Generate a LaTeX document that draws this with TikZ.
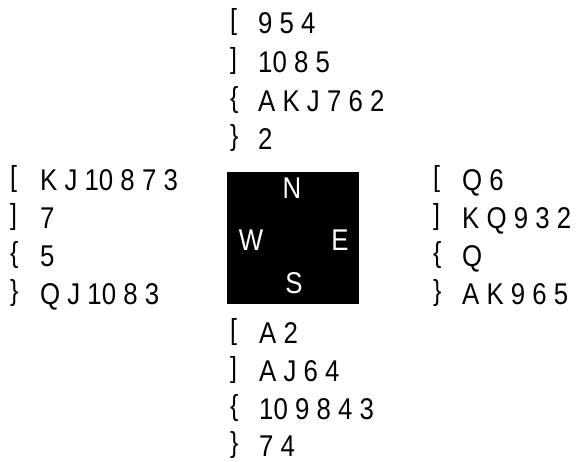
\documentclass[tikz,border=0pt]{standalone}
\usepackage{fontspec}
\setmainfont{Liberation Sans}[FakeStretch=0.86]
\begin{document}
\begin{tikzpicture}[x=1pt,y=-1pt,
  txt/.style={anchor=base west,inner sep=0pt,font=\fontsize{30}{30}\selectfont},
  suit/.style={anchor=base west,inner sep=0pt,yshift=4pt,font=\fontsize{29}{29}\selectfont},
  dir/.style={anchor=center,inner sep=0pt,text=white,font=\fontsize{30}{30}\selectfont}]
\useasboundingbox (0,0) rectangle (584,461);
% North
\node[suit] (ns) at (230,33) {[};
\node[suit] (nh) at (230,72) {]};
\node[suit] (nd) at (230,111) {\{};
\node[suit] (nc) at (230,149) {\}};
\node[txt] (nsc) at (258,33) {9 5 4};
\node[txt] (nhc) at (258,72) {10 8 5};
\node[txt] (ndc) at (258,111) {A K J 7 6 2};
\node[txt] (ncc) at (258,149) {2};
% West
\node[suit] (ws) at (10,190) {[};
\node[suit] (wh) at (10,228) {]};
\node[suit] (wd) at (10,266) {\{};
\node[suit] (wc) at (10,304) {\}};
\node[txt] (wsc) at (40,190) {K J 10 8 7 3};
\node[txt] (whc) at (40,228) {7};
\node[txt] (wdc) at (40,266) {5};
\node[txt] (wcc) at (40,304) {Q J 10 8 3};
% East
\node[suit] (es) at (433,190) {[};
\node[suit] (eh) at (433,228) {]};
\node[suit] (ed) at (433,266) {\{};
\node[suit] (ec) at (433,304) {\}};
\node[txt] (esc) at (462,190) {Q 6};
\node[txt] (ehc) at (462,228) {K Q 9 3 2};
\node[txt] (edc) at (462,266) {Q};
\node[txt] (ecc) at (462,304) {A K 9 6 5};
% South
\node[suit] (ss) at (230,343) {[};
\node[suit] (sh) at (230,381) {]};
\node[suit] (sd) at (230,419) {\{};
\node[suit] (sc) at (230,456) {\}};
\node[txt] (ssc) at (259,343) {A 2};
\node[txt] (shc) at (259,381) {A J 6 4};
\node[txt] (sdc) at (259,419) {10 9 8 4 3};
\node[txt] (scc) at (259,456) {7 4};
% Compass box
\fill[black] (227,172) rectangle (359,304);
\node[dir] (N) at (292,188) {N};
\node[dir] (W) at (251,240) {W};
\node[dir] (E) at (340,240) {E};
\node[dir] (S) at (294,283) {S};
\end{tikzpicture}
\end{document}
